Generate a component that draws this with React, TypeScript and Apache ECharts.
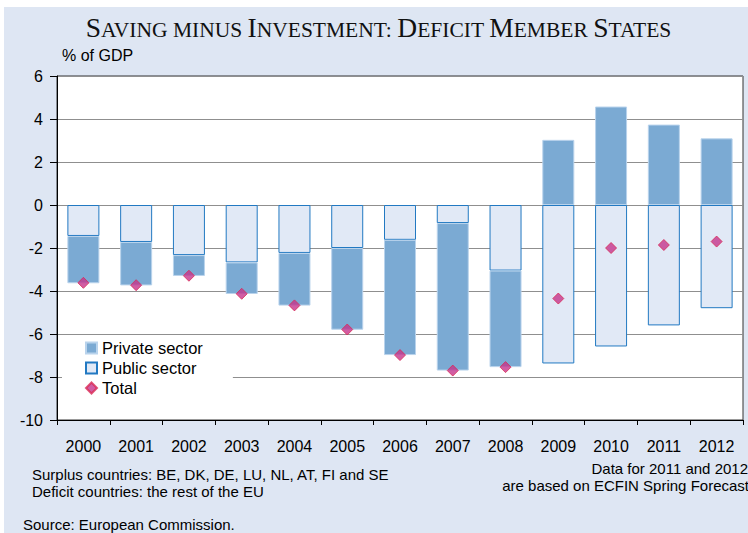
import React, { useEffect, useRef } from "react";
import * as echarts from "echarts";

const years = ["2000", "2001", "2002", "2003", "2004", "2005", "2006", "2007", "2008", "2009", "2010", "2011", "2012"];
const publicSector = [-1.44, -1.72, -2.33, -2.67, -2.23, -2.0, -1.62, -0.84, -3.05, -7.37, -6.58, -5.6, -4.8];
const privateSector = [-2.2, -2.02, -0.97, -1.47, -2.45, -3.8, -5.36, -6.86, -4.49, 3.03, 4.58, 3.74, 3.1];
const totalBalance = [-3.62, -3.73, -3.29, -4.13, -4.67, -5.79, -6.98, -7.7, -7.54, -4.35, -2.0, -1.86, -1.7];
const yMin = -10;
const yMax = 6;
const yStep = 2;

const SANS = "'Liberation Sans', Arial, sans-serif";
const SERIF = "'Liberation Serif', 'Times New Roman', serif";

export default function App() {
  const ref = useRef<HTMLDivElement>(null);

  useEffect(() => {
    document.body.style.margin = "0";
    document.body.style.overflow = "hidden";
    const chart = echarts.init(ref.current!, null, { renderer: "svg" });
    chart.setOption({
      animation: false,
      backgroundColor: "#DEE6F3",
      textStyle: { fontFamily: SANS },
      grid: {
        left: 57,
        right: 5,
        top: 76,
        bottom: 113,
        show: true,
        backgroundColor: "#ffffff",
        borderColor: "#333333",
        borderWidth: 1,
      },
      xAxis: {
        type: "category",
        data: years,
        axisLine: { onZero: false, lineStyle: { color: "#000", width: 1 } },
        axisTick: { show: true, length: 5, lineStyle: { color: "#000" } },
        axisLabel: { fontSize: 16, color: "#000", margin: 18, fontFamily: SANS },
        splitLine: { show: false },
      },
      yAxis: {
        type: "value",
        min: yMin,
        max: yMax,
        interval: yStep,
        axisLine: { show: true, lineStyle: { color: "#000", width: 1 } },
        axisTick: { show: true, length: 7, lineStyle: { color: "#000" } },
        axisLabel: { fontSize: 16, color: "#000", margin: 14, fontFamily: SANS },
        splitLine: { show: true, lineStyle: { color: "#8f8f8f", width: 1 } },
      },
      legend: {
        data: [
          { name: "Private sector", icon: "rect" },
          { name: "Public sector", icon: "rect" },
          { name: "Total", icon: "diamond" },
        ],
        orient: "vertical",
        left: 62,
        top: 336,
        padding: [2, 30, 4, 23],
        itemGap: 0,
        itemWidth: 11,
        itemHeight: 11,
        backgroundColor: "#ffffff",
        selectedMode: false,
        textStyle: { fontSize: 16.5, color: "#000", lineHeight: 20, fontFamily: SANS },
        z: 5,
      },
      series: [
        {
          name: "Public sector",
          type: "bar",
          stack: "balance",
          data: publicSector,
          barWidth: 32,
          itemStyle: { color: "#E1E9F6", borderColor: "#2279C2", borderWidth: 1 },
        },
        {
          name: "Private sector",
          type: "bar",
          stack: "balance",
          data: privateSector,
          barWidth: 32,
          itemStyle: { color: "#7BAAD3", borderColor: "#B9D3EC", borderWidth: 1 },
        },
        {
          name: "Total",
          type: "scatter",
          data: totalBalance,
          symbol: "diamond",
          symbolSize: 11,
          z: 5,
          itemStyle: { color: "#C6358C", borderColor: "#DA2A55", borderWidth: 1 },
        },
      ],
      graphic: [
        { type: "rect", shape: { x: 0, y: 0, width: 748, height: 7 }, style: { fill: "#ffffff" }, silent: true },
        { type: "rect", shape: { x: 0, y: 0, width: 4, height: 533 }, style: { fill: "#ffffff" }, silent: true },
        {
          type: "text",
          x: 378.5,
          y: 41,
          style: {
            text: "{b|S}{s|AVING MINUS }{b|I}{s|NVESTMENT: }{b|D}{s|EFICIT }{b|M}{s|EMBER }{b|S}{s|TATES}",
            align: "center",
            verticalAlign: "bottom",
            fill: "#111",
            rich: {
              b: { fontSize: 27.5, fontFamily: SERIF, fill: "#111", verticalAlign: "bottom" },
              s: { fontSize: 21.5, fontFamily: SERIF, fill: "#111", verticalAlign: "bottom" },
            },
          },
        },
        {
          type: "text",
          x: 62,
          y: 55,
          style: { text: "% of GDP", fontSize: 16, fontFamily: SANS, fill: "#000", verticalAlign: "middle", align: "left" },
        },
        {
          type: "text",
          x: 32,
          y: 474,
          style: { text: "Surplus countries: BE, DK, DE, LU, NL, AT, FI and SE", fontSize: 15, fontFamily: SANS, fill: "#000", verticalAlign: "middle", align: "left" },
        },
        {
          type: "text",
          x: 32,
          y: 491,
          style: { text: "Deficit countries: the rest of the EU", fontSize: 15, fontFamily: SANS, fill: "#000", verticalAlign: "middle", align: "left" },
        },
        {
          type: "text",
          x: 748,
          y: 468,
          style: { text: "Data for 2011 and 2012", fontSize: 15, fontFamily: SANS, fill: "#000", verticalAlign: "middle", align: "right" },
        },
        {
          type: "text",
          x: 749,
          y: 485.5,
          style: { text: "are based on ECFIN Spring Forecast", fontSize: 15, fontFamily: SANS, fill: "#000", verticalAlign: "middle", align: "right" },
        },
        {
          type: "text",
          x: 23,
          y: 524,
          style: { text: "Source: European Commission.", fontSize: 15, fontFamily: SANS, fill: "#000", verticalAlign: "middle", align: "left" },
        },
      ],
    });
    return () => chart.dispose();
  }, []);

  return <div ref={ref} style={{ width: 748, height: 533 }} />;
}
